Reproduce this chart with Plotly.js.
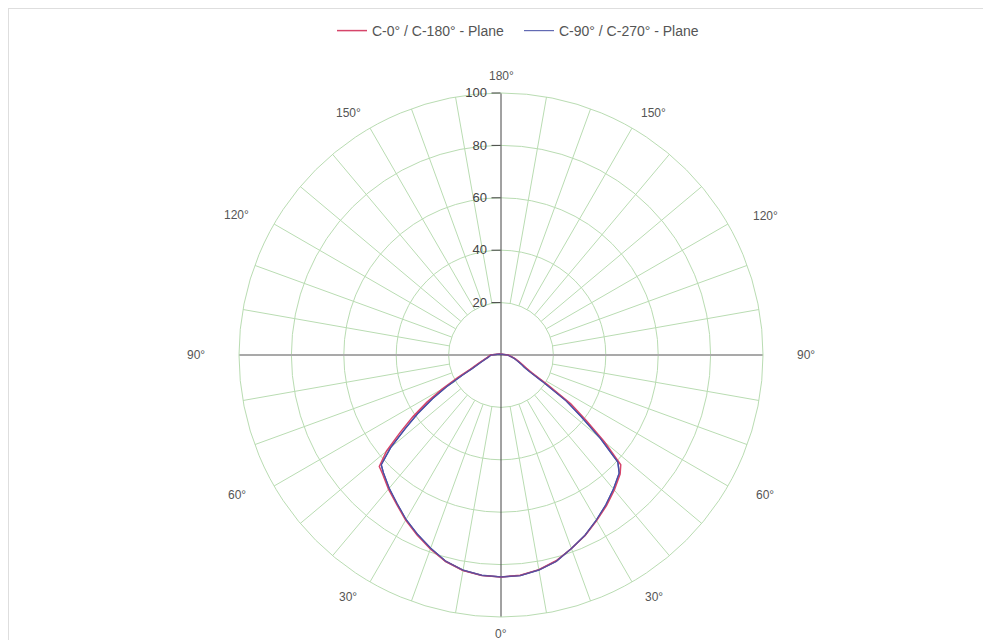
<!DOCTYPE html>
<html>
<head>
<meta charset="utf-8">
<script src="https://cdn.plot.ly/plotly-3.0.1.min.js"></script>
<style>
  html, body { margin: 0; padding: 0; background: #ffffff; }
  #chart { width: 983px; height: 640px; }
  #frame { position: absolute; left: 8px; top: 8px; width: 990px; height: 650px;
           border-top: 1px solid #dedede; border-left: 1px solid #dedede; pointer-events: none; }
</style>
</head>
<body>
<div id="chart"></div>
<div id="frame"></div>
<script>
// Gamma angles (degrees from nadir)
const gamma = [0, 5, 10, 15, 20, 25, 30, 35, 40, 45, 47.5, 50, 52.5, 55, 57.5, 60, 62.5, 65, 70, 75, 80, 85, 90, 100, 120, 150, 180];

// Relative intensity (%) per half-plane
const c0   = [84.7, 84.4, 83.2, 81.3, 78.6, 76.0, 73.0, 70.2, 67.3, 64.3, 62.0, 51.5, 41.0, 32.5, 21.0, 13.5, 11.0, 9.5, 7.3, 5.7, 4.3, 3.3, 2.8, 1.2, 0.6, 0.3, 0.2];
const c180 = [84.7, 84.5, 83.5, 81.6, 78.8, 75.8, 72.8, 69.5, 66.8, 64.0, 63.0, 57.0, 48.5, 41.0, 33.5, 26.0, 18.5, 13.0, 9.0, 6.7, 5.3, 4.6, 4.1, 1.5, 0.7, 0.3, 0.2];
const c90  = [84.7, 84.5, 83.3, 81.5, 78.6, 75.9, 72.8, 69.8, 66.8, 63.8, 60.5, 49.5, 38.5, 30.0, 18.5, 12.5, 10.0, 8.8, 6.8, 5.4, 4.0, 3.1, 2.6, 1.1, 0.5, 0.3, 0.2];
const c270 = [84.7, 84.4, 83.4, 81.5, 78.5, 75.5, 72.5, 69.2, 66.4, 63.5, 62.0, 55.0, 46.0, 38.5, 31.0, 23.5, 16.5, 12.0, 8.3, 6.3, 5.0, 4.3, 3.8, 1.4, 0.6, 0.3, 0.2];

const seriesNames = ["C-0° / C-180° - Plane", "C-90° / C-270° - Plane"];
const seriesColors = ["#d6456a", "#4650a6"];

// Axis ticks
const radialTicks = [20, 40, 60, 80, 100];
const angularTickVals = [0, 30, 60, 90, 120, 150, 180, 210, 240, 270, 300, 330];
const angularTickText = ["0°", "30°", "60°", "90°", "120°", "150°", "180°", "150°", "120°", "90°", "60°", "30°"];
// Spoke grid angles (drawn from the inner ring outward)
const spokeAngles = [10, 20, 30, 40, 50, 60, 70, 80, 100, 110, 120, 130, 140, 150, 160, 170,
                     190, 200, 210, 220, 230, 240, 250, 260, 280, 290, 300, 310, 320, 330, 340, 350];
const spokeInner = 20, spokeOuter = 100;

function plane(right, left) {
  const theta = [], r = [];
  for (let i = gamma.length - 1; i >= 1; i--) { theta.push(360 - gamma[i]); r.push(left[i]); }
  for (let i = 0; i < gamma.length; i++) { theta.push(gamma[i]); r.push(right[i]); }
  return { theta, r };
}

const gridColor = "#b9dcb2";
const traces = [];

// spokes
const sT = [], sR = [];
spokeAngles.forEach(a => { sT.push(a, a, null); sR.push(spokeInner, spokeOuter, null); });
traces.push({ type: "scatterpolar", mode: "lines", theta: sT, r: sR, connectgaps: false,
  line: { color: gridColor, width: 1 }, hoverinfo: "skip", showlegend: false });

// horizontal 90°-90° line
traces.push({ type: "scatterpolar", mode: "lines", theta: [90, 0, 270], r: [spokeOuter, 0, spokeOuter],
  line: { color: "#a9a9a9", width: 2 }, hoverinfo: "skip", showlegend: false });
// vertical 0°-180° line
traces.push({ type: "scatterpolar", mode: "lines", theta: [180, 0, 0], r: [spokeOuter, 0, spokeOuter],
  line: { color: "#444444", width: 1 }, hoverinfo: "skip", showlegend: false });

const p1 = plane(c0, c180);
const p2 = plane(c90, c270);
traces.push({ type: "scatterpolar", mode: "lines", name: seriesNames[1], theta: p2.theta, r: p2.r,
  line: { color: seriesColors[1], width: 1.5 }, showlegend: false });
traces.push({ type: "scatterpolar", mode: "lines", name: seriesNames[0], theta: p1.theta, r: p1.r,
  line: { color: seriesColors[0], width: 1.5 } });
// legend entry for the blue plane (kept after red in the legend)
traces.push({ type: "scatterpolar", mode: "lines", name: seriesNames[1], theta: p2.theta, r: p2.r,
  line: { color: seriesColors[1], width: 1.2 }, opacity: 0.85 });

const W = 983, H = 640, cx = 501, cy = 355, R = 262;
// angular label placement (ellipse around the circle)
const labA = 305, labB = 279;
const annotations = angularTickVals.map((t, i) => {
  const a = t * Math.PI / 180;
  return {
    xref: "paper", yref: "paper", showarrow: false,
    x: (cx + labA * Math.sin(a)) / W, y: 1 - (cy + labB * Math.cos(a)) / H,
    xanchor: "center", yanchor: "middle",
    text: angularTickText[i], font: { size: 12, color: "#555" }
  };
});

const layout = {
  width: W, height: H,
  margin: { l: 0, r: 0, t: 0, b: 0 },
  paper_bgcolor: "#ffffff",
  font: { family: "Liberation Sans, Arial, sans-serif", color: "#555", size: 10 },
  showlegend: true,
  legend: { orientation: "h", x: 332 / W, xanchor: "left", y: 1 - 31 / H, yanchor: "middle",
            entrywidth: 142, entrywidthmode: "pixels",
            font: { size: 14, color: "#555" }, bgcolor: "rgba(0,0,0,0)" },
  annotations: annotations,
  polar: {
    domain: { x: [(cx - R) / W, (cx + R) / W], y: [(H - cy - R) / H, (H - cy + R) / H] },
    bgcolor: "rgba(0,0,0,0)",
    angularaxis: {
      rotation: 270, direction: "counterclockwise",
      tickmode: "array", tickvals: angularTickVals, ticktext: angularTickText,
      showticklabels: false, ticks: "",
      showgrid: false, showline: true, linecolor: gridColor, linewidth: 1
    },
    radialaxis: {
      range: [0, 100], angle: 90, side: "counterclockwise",
      tickmode: "array", tickvals: radialTicks, ticktext: radialTicks.map(String),
      showgrid: true, gridcolor: gridColor, gridwidth: 1,
      showline: false, ticks: "outside", ticklen: 9, tickcolor: "#444", tickangle: 90,
      tickfont: { size: 13, color: "#444" }
    }
  }
};

Plotly.newPlot("chart", traces, layout, { displayModeBar: false, staticPlot: true });
</script>
</body>
</html>
